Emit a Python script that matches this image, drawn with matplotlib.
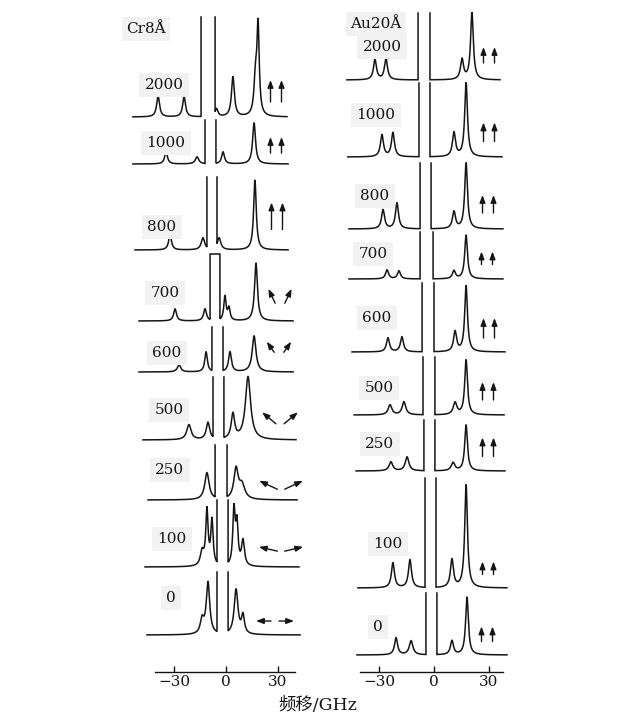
import numpy as np
import matplotlib
matplotlib.use('Agg')
import matplotlib.pyplot as plt

# ---------------- data ----------------
fields = ['2000', '1000', '800', '700', '600', '500', '250', '100', '0']
ticks = [-30, 0, 30]
tick_labels = ['\u221230', '0', '30']
titles = ['Cr8\u00c5', 'Au20\u00c5']
xlabel = '\u9891\u79fb/GHz'

# Cr 8 Å panel: Brillouin peak positions (GHz), heights (a.u.), half widths (GHz)
cr_pos = [[-39.2, -24.2, -5.5, 4.0, 17.0, 18.5],
          [-34.6, -16.7, -1.7, 16.2],
          [-32.3, -13.3, -4.0, 16.7],
          [-29.4, -12.1, -0.6, 1.7, 17.3],
          [-27.1, -11.5, 2.3, 16.2],
          [-21.4, -10.4, 4.0, 12.7],
          [-11.0, 5.8, 9.2],
          [-13.8, -11.0, -8.1, 4.6, 6.3, 9.8],
          [-13.8, -10.4, 5.8, 9.8]]
cr_hgt = [[21, 20, 8, 40, 35, 88],
          [12, 7, 12, 41],
          [15, 12, 12, 70],
          [12, 12, 24, 12, 58],
          [7, 20, 20, 36],
          [15, 17, 25, 63],
          [27, 30, 14],
          [14, 55, 45, 55, 40, 25],
          [14, 52, 45, 18]]
cr_wid = [[1.0, 1.0, 1.0, 1.0, 1.0, 0.8],
          [1.0, 1.2, 1.0, 1.0],
          [1.0, 1.2, 1.2, 0.9],
          [1.0, 1.0, 0.8, 0.8, 1.0],
          [1.2, 0.9, 1.0, 1.3],
          [1.5, 1.2, 1.2, 1.8],
          [1.5, 1.5, 2.0],
          [1.2, 0.8, 0.8, 0.8, 0.8, 1.0],
          [1.2, 1.2, 1.3, 1.0]]
# blanked elastic line: edges (GHz), clipped height, flat top drawn
cr_cut_lo = [-14.4, -12.1, -11.0, -9.2, -8.1, -7.5, -6.3, -5.2, -5.2]
cr_cut_hi = [-6.3, -5.8, -5.2, -3.5, -1.7, -1.2, 0.6, 1.2, 1.2]
cr_cut_top = [100, 44, 73, 67, 45, 63, 55, 67, 63]
cr_flat = [False, False, False, True, False, False, False, False, False]
cr_start = [-53.7, -53.7, -52.5, -50.2, -50.2, -47.9, -45.0, -46.7, -45.6]
cr_end = [35.2, 35.8, 35.8, 38.7, 38.7, 40.4, 41.0, 42.1, 42.7]
cr_angle = [0, 0, 0, 25, 35, 50, 65, 77, 90]   # magnetisation angle from vertical (deg)

# Au 20 Å panel
au_pos = [[-32.2, -26.2, 15.3, 20.7],
          [-28.4, -22.4, 10.9, 17.5],
          [-27.8, -20.2, 10.9, 17.5],
          [-25.6, -19.1, 10.9, 17.5],
          [-25.1, -17.5, 11.5, 17.5],
          [-24.0, -16.4, 11.5, 17.5],
          [-23.5, -14.7, 10.4, 17.5],
          [-22.4, -13.1, 9.8, 17.5],
          [-20.7, -12.5, 9.8, 18.0]]
au_hgt = [[20, 21, 20, 67],
          [22, 24, 24, 74],
          [19, 26, 17, 66],
          [9, 8, 8, 44],
          [14, 15, 20, 66],
          [10, 13, 12, 55],
          [9, 14, 8, 46],
          [25, 28, 28, 103],
          [17, 14, 14, 58]]
au_wid = [[1.0, 1.0, 1.0, 0.9],
          [1.0, 1.0, 1.0, 0.9],
          [1.0, 1.0, 1.0, 0.9],
          [1.0, 1.0, 1.0, 0.9],
          [1.0, 1.0, 1.0, 0.9],
          [1.2, 1.2, 1.2, 0.9],
          [1.2, 1.2, 1.2, 0.9],
          [1.0, 1.0, 1.0, 0.9],
          [1.0, 1.2, 1.0, 0.9]]
au_cut_lo = [-8.7, -8.2, -7.6, -7.6, -6.5, -6.0, -5.5, -4.9, -4.4]
au_cut_hi = [-2.2, -2.2, -1.6, -0.5, 0.0, 0.5, 0.5, 1.1, 1.6]
au_cut_top = [67, 74, 66, 47, 69, 58, 51, 110, 62]
au_flat = [False] * 9
au_start = [-47.5, -47.0, -46.4, -46.4, -44.7, -43.6, -42.5, -41.5, -42.0]
au_end = [36.0, 37.1, 37.6, 37.6, 38.7, 38.2, 38.7, 39.8, 39.8]
au_angle = [0, 0, 0, 0, 0, 0, 0, 0, 0]

# ---------------- layout (pixels of the 627x718 canvas) ----------------
W, H = 627, 718
AX_BOTTOM = 672
panels = [
    dict(zero=226, scale=1.733, px0=115, px1=312, spine=(-41, 40),
         base=[117, 164, 250, 321, 372, 440, 500, 567, 635],
         lab_x=[164, 166, 162, 165, 167, 169, 170, 172, 171],
         lab_y=[85, 143, 227, 293, 353, 410, 470, 539, 598],
         arr_x=[276, 276, 277, 280, 279, 280, 281, 281, 275],
         arr_y=[91, 145, 216, 296, 347, 418, 485, 549, 621],
         arr_len=[22, 16, 27, 16, 13, 18, 20, 19, 15],
         title_xy=(146, 29),
         pos=cr_pos, hgt=cr_hgt, wid=cr_wid, lo=cr_cut_lo, hi=cr_cut_hi,
         top=cr_cut_top, flat=cr_flat, start=cr_start, end=cr_end, angle=cr_angle),
    dict(zero=434, scale=1.833, px0=335, px1=520, spine=(-40.4, 37.6),
         base=[80, 157, 229, 279, 352, 415, 471, 588, 655],
         lab_x=[382, 376, 375, 373, 377, 379, 380, 388, 378],
         lab_y=[47, 115, 196, 254, 318, 388, 444, 544, 627],
         arr_x=[489, 489, 488, 487, 489, 488, 488, 488, 487],
         arr_y=[55, 132, 204, 258, 328, 391, 447, 568, 634],
         arr_len=[16, 19, 18, 13, 20, 18, 19, 13, 15],
         title_xy=(376, 24),
         pos=au_pos, hgt=au_hgt, wid=au_wid, lo=au_cut_lo, hi=au_cut_hi,
         top=au_cut_top, flat=au_flat, start=au_start, end=au_end, angle=au_angle),
]

SERIF = 'DejaVu Serif'
INK = '#151515'
BOXC = '#f2f2f2'

fig = plt.figure(figsize=(W / 100, H / 100), dpi=100)
fig.patch.set_facecolor('white')


def lorentz_sum(x, pos, hgt, wid):
    x = np.asarray(x, dtype=float)
    y = np.zeros_like(x)
    for p, h, w in zip(pos, hgt, wid):
        y += h * w ** 2 / ((x - p) ** 2 + w ** 2)
    return y


for ti, P in enumerate(panels):
    z, s = P['zero'], P['scale']
    g = lambda px: (px - z) / s   # pixel column -> GHz
    ax = fig.add_axes([P['px0'] / W, (H - AX_BOTTOM) / H,
                       (P['px1'] - P['px0']) / W, AX_BOTTOM / H])
    ax.set_xlim(g(P['px0']), g(P['px1']))
    ax.set_ylim(AX_BOTTOM, 0)
    ax.patch.set_alpha(0)
    for sp in ['left', 'right', 'top']:
        ax.spines[sp].set_visible(False)
    ax.spines['bottom'].set_bounds(*P['spine'])
    ax.spines['bottom'].set_linewidth(1.0)
    ax.spines['bottom'].set_color(INK)
    ax.set_yticks([])
    ax.set_xticks(ticks)
    ax.set_xticklabels(tick_labels, fontfamily=SERIF, fontsize=11, color=INK)
    ax.tick_params(axis='x', direction='in', length=4, width=1.0, pad=2, colors=INK)

    for i, lab in enumerate(fields):
        x = np.linspace(P['start'][i], P['end'][i], 1500)
        I = lorentz_sum(x, P['pos'][i], P['hgt'][i], P['wid'][i])
        lo, hi, top = P['lo'][i], P['hi'][i], P['top'][i]
        fl = lorentz_sum([lo], P['pos'][i], P['hgt'][i], P['wid'][i])[0]
        fh = lorentz_sum([hi], P['pos'][i], P['hgt'][i], P['wid'][i])[0]
        L = x < lo
        R = x > hi
        if P['flat'][i]:
            midx, midy = [lo, lo, hi, hi], [fl, top, top, fh]
        else:
            midx, midy = [lo, lo, np.nan, hi, hi], [fl, top, np.nan, top, fh]
        xs = np.concatenate([x[L], midx, x[R]])
        ys = np.concatenate([I[L], midy, I[R]])
        ax.plot(xs, P['base'][i] - ys, color=INK, lw=1.1, clip_on=False,
                solid_joinstyle='miter')

        # field label
        ax.text(g(P['lab_x'][i]), P['lab_y'][i], lab, fontfamily=SERIF, fontsize=11,
                color=INK, ha='center', va='center',
                bbox=dict(boxstyle='square,pad=0.35', fc=BOXC, ec='none'))

        # magnetisation arrows (mirror pair)
        th = np.deg2rad(P['angle'][i])
        Ln = P['arr_len'][i]
        off = 5.5 + 0.4 * Ln * np.sin(th)
        for sgn in (-1, 1):
            cx = P['arr_x'][i] + sgn * off
            cy = P['arr_y'][i]
            dx = sgn * np.sin(th) * Ln / 2
            dy = -np.cos(th) * Ln / 2
            ax.annotate('', xy=(g(cx + dx), cy + dy), xytext=(g(cx - dx), cy - dy),
                        annotation_clip=False,
                        arrowprops=dict(arrowstyle='-|>,head_length=0.45,head_width=0.17',
                                        mutation_scale=10, lw=1.0, color=INK,
                                        shrinkA=0, shrinkB=0))

    tx, ty = P['title_xy']
    ax.text(g(tx), ty, titles[ti], fontfamily=SERIF, fontsize=11, color=INK,
            ha='center', va='center',
            bbox=dict(boxstyle='square,pad=0.3', fc=BOXC, ec='none'))

fig.text(318 / W, 1 - 705 / H, xlabel, family=[SERIF, 'Noto Sans CJK SC'],
         fontsize=12.5, color=INK, ha='center', va='center')

fig.savefig('out.png', dpi=100, facecolor='white')
